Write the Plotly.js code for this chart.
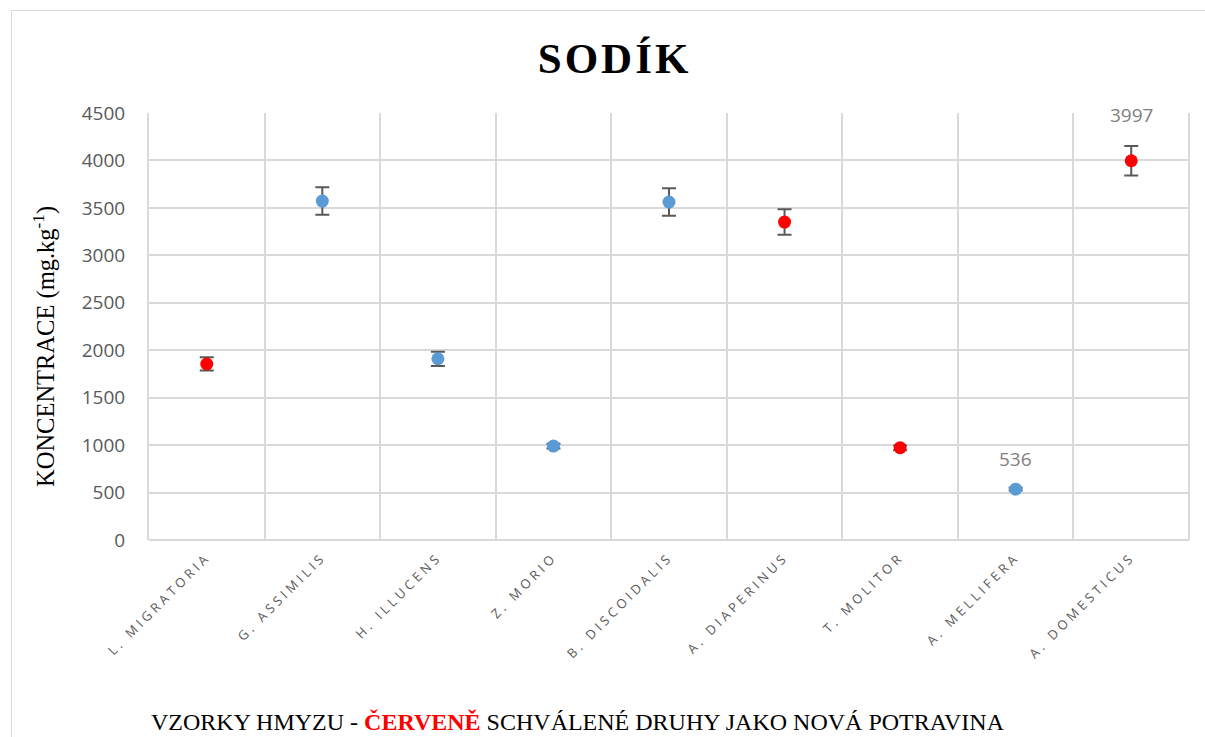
<!DOCTYPE html>
<html>
<head>
<meta charset="utf-8">
<script src="https://cdn.plot.ly/plotly-3.0.1.min.js"></script>
<style>
  html, body { margin: 0; padding: 0; background: #fff; }
  #wrap { position: relative; width: 1205px; height: 737px; }
  #chart { position: absolute; left: 0; top: 0; width: 1205px; height: 737px; }
  #frame { position: absolute; left: 11px; top: 10px; width: 1200px; height: 740px;
           border: 1.5px solid #d9d9d9; pointer-events: none; box-sizing: border-box; }
  .gtitle { letter-spacing: 3px; }
  .xtick text { letter-spacing: 3.6px; }
</style>
</head>
<body>
<div id="wrap">
  <div id="chart"></div>
  <div id="frame"></div>
</div>
<script>
const categories = ["L. MIGRATORIA", "G. ASSIMILIS", "H. ILLUCENS", "Z. MORIO",
  "B. DISCOIDALIS", "A. DIAPERINUS", "T. MOLITOR", "A. MELLIFERA", "A. DOMESTICUS"];
const sodium = [1855, 3572, 1910, 990, 3561, 3351, 972, 536, 3997];
const sodiumError = [70, 145, 75, 25, 145, 135, 25, 15, 155];
const approved = [true, false, false, false, false, true, true, false, true];
const labelled = ["A. MELLIFERA", "A. DOMESTICUS"];

const approvedColor = "#FF0000";
const otherColor = "#5B9BD5";

const trace = {
  type: "scatter",
  mode: "markers",
  x: categories,
  y: sodium,
  marker: { size: 13, color: approved.map(a => a ? approvedColor : otherColor) },
  error_y: { type: "data", array: sodiumError, visible: true, color: "#595959", thickness: 2, width: 7 },
  hoverinfo: "x+y",
  showlegend: false
};

const labelShift = { "A. MELLIFERA": 30, "A. DOMESTICUS": 46 };
const annotations = labelled.map(c => {
  const i = categories.indexOf(c);
  return {
    x: c, y: sodium[i], xref: "x", yref: "y",
    text: String(sodium[i]), showarrow: false,
    yshift: labelShift[c],
    font: { family: "Open Sans, sans-serif", size: 19, color: "#7f7f7f" }
  };
});

annotations.push({
  xref: "paper", yref: "paper", x: 0.0, y: -0.426, xanchor: "left", yanchor: "middle",
  showarrow: false,
  text: "VZORKY HMYZU - <b><span style=\"color:#FF0000\">ČERVENĚ</span></b> SCHVÁLENÉ DRUHY JAKO NOVÁ POTRAVINA",
  font: { family: "Liberation Serif, Times New Roman, serif", size: 24, color: "#000" }
});

annotations.push({
  xref: "paper", yref: "paper", x: -0.1, y: 0.452, xanchor: "center", yanchor: "middle",
  showarrow: false, textangle: -90,
  text: "KONCENTRACE (mg.kg<sup>-1</sup>)",
  font: { family: "Liberation Serif, Times New Roman, serif", size: 24.5, color: "#000" }
});

const layout = {
  width: 1205, height: 737,
  margin: { l: 149, r: 16, t: 113, b: 197 },
  paper_bgcolor: "#fff",
  plot_bgcolor: "#fff",
  title: {
    text: "<b>SODÍK</b>",
    x: 0.51, xanchor: "center", y: 0.922, yanchor: "middle",
    font: { family: "Liberation Serif, Times New Roman, serif", size: 43, color: "#000" }
  },
  xaxis: {
    type: "category",
    tickson: "boundaries",
    showgrid: true, gridcolor: "#d9d9d9", gridwidth: 2,
    showline: false, zeroline: false,
    ticks: "", tickangle: -45,
    ticklabelstandoff: 6,
    tickfont: { family: "Open Sans, sans-serif", size: 13, color: "#595959" },
    range: [-0.5, 8.5]
  },
  yaxis: {
    range: [0, 4500], dtick: 500, tick0: 0,
    showgrid: true, gridcolor: "#d9d9d9", gridwidth: 2,
    zeroline: true, zerolinecolor: "#d9d9d9", zerolinewidth: 2,
    showline: true, linecolor: "#d9d9d9", linewidth: 2,
    ticks: "", ticklabelstandoff: 18,
    tickfont: { family: "Open Sans, sans-serif", size: 19, color: "#595959" }
  },
  shapes: [{
    type: "line", xref: "paper", yref: "paper", x0: 1, x1: 1, y0: 0, y1: 1,
    line: { color: "#d9d9d9", width: 2 }
  }],
  annotations: annotations
};

Plotly.newPlot("chart", [trace], layout, { displayModeBar: false, staticPlot: true });
</script>
</body>
</html>
